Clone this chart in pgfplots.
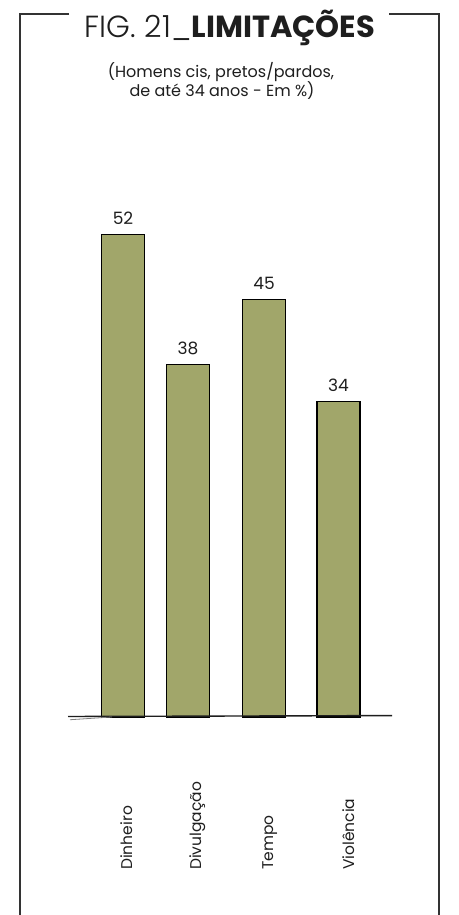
\documentclass[border=0pt]{standalone}
\usepackage{pgfplots}
\pgfplotsset{compat=1.18}
\usepackage{fontspec}
\setmainfont{Poppins}
\newfontfamily\lightfont{Poppins Light}
\definecolor{barfill}{RGB}{161,166,106}
\definecolor{ink}{RGB}{30,30,30}
\definecolor{framec}{RGB}{51,51,51}
\begin{document}
\begin{tikzpicture}[x=1pt,y=1pt]
\useasboundingbox (0,0) rectangle (458,915);
\fill[white] (0,0) rectangle (458,915);
% frame
\draw[framec, line width=2pt] (69,901) -- (20,901) -- (20,-3);
\draw[framec, line width=2pt] (389,901) -- (439,901) -- (439,-3);
% titles
\node[anchor=base, inner sep=0, color=ink, font=\fontsize{30.5}{31}\selectfont] at (230,877) {{\lightfont FIG. 21\_}{\bfseries LIMITAÇÕES}};
\node[anchor=base, inner sep=0, color=ink, font=\fontsize{16}{16}\selectfont] at (221,837) {(Homens cis, pretos/pardos,};
\node[anchor=base, inner sep=0, color=ink, font=\fontsize{16}{16}\selectfont] at (222,818) {de até 34 anos - Em \%)};
\begin{axis}[at={(0,0)}, anchor=south west, scale only axis,
  width=458pt, height=915pt, xmin=0, xmax=458, ymin=-21.34, ymax=77.26,
  axis lines=none, clip=false, ybar, bar width=43pt, xtick=\empty, ytick=\empty,
  /pgf/number format/assume math mode=true,
  nodes near coords,
  every node near coord/.append style={font=\fontsize{17}{17}\selectfont, color=ink, anchor=base, yshift=10pt}]
\addplot[fill=barfill, draw=black, line width=1.1pt] coordinates {(123,52) (188,38) (264,45) (338.5,34)};
\draw[ink, line width=1.4pt] (axis cs:68,0.05) -- (axis cs:392,0.15);
\draw[gray, line width=0.8pt] (axis cs:70,-0.3) -- (axis cs:112,0.0);
\node[rotate=90, anchor=base west, inner sep=0, color=ink, font=\fontsize{15.5}{15.5}\selectfont] at (axis cs:132,-16.49) {Dinheiro};
\node[rotate=90, anchor=base west, inner sep=0, color=ink, font=\fontsize{15.5}{15.5}\selectfont] at (axis cs:201,-16.49) {Divulgação};
\node[rotate=90, anchor=base west, inner sep=0, color=ink, font=\fontsize{15.5}{15.5}\selectfont] at (axis cs:273,-16.49) {Tempo};
\node[rotate=90, anchor=base west, inner sep=0, color=ink, font=\fontsize{15.5}{15.5}\selectfont] at (axis cs:354,-16.49) {Violência};
\end{axis}
\end{tikzpicture}
\end{document}
